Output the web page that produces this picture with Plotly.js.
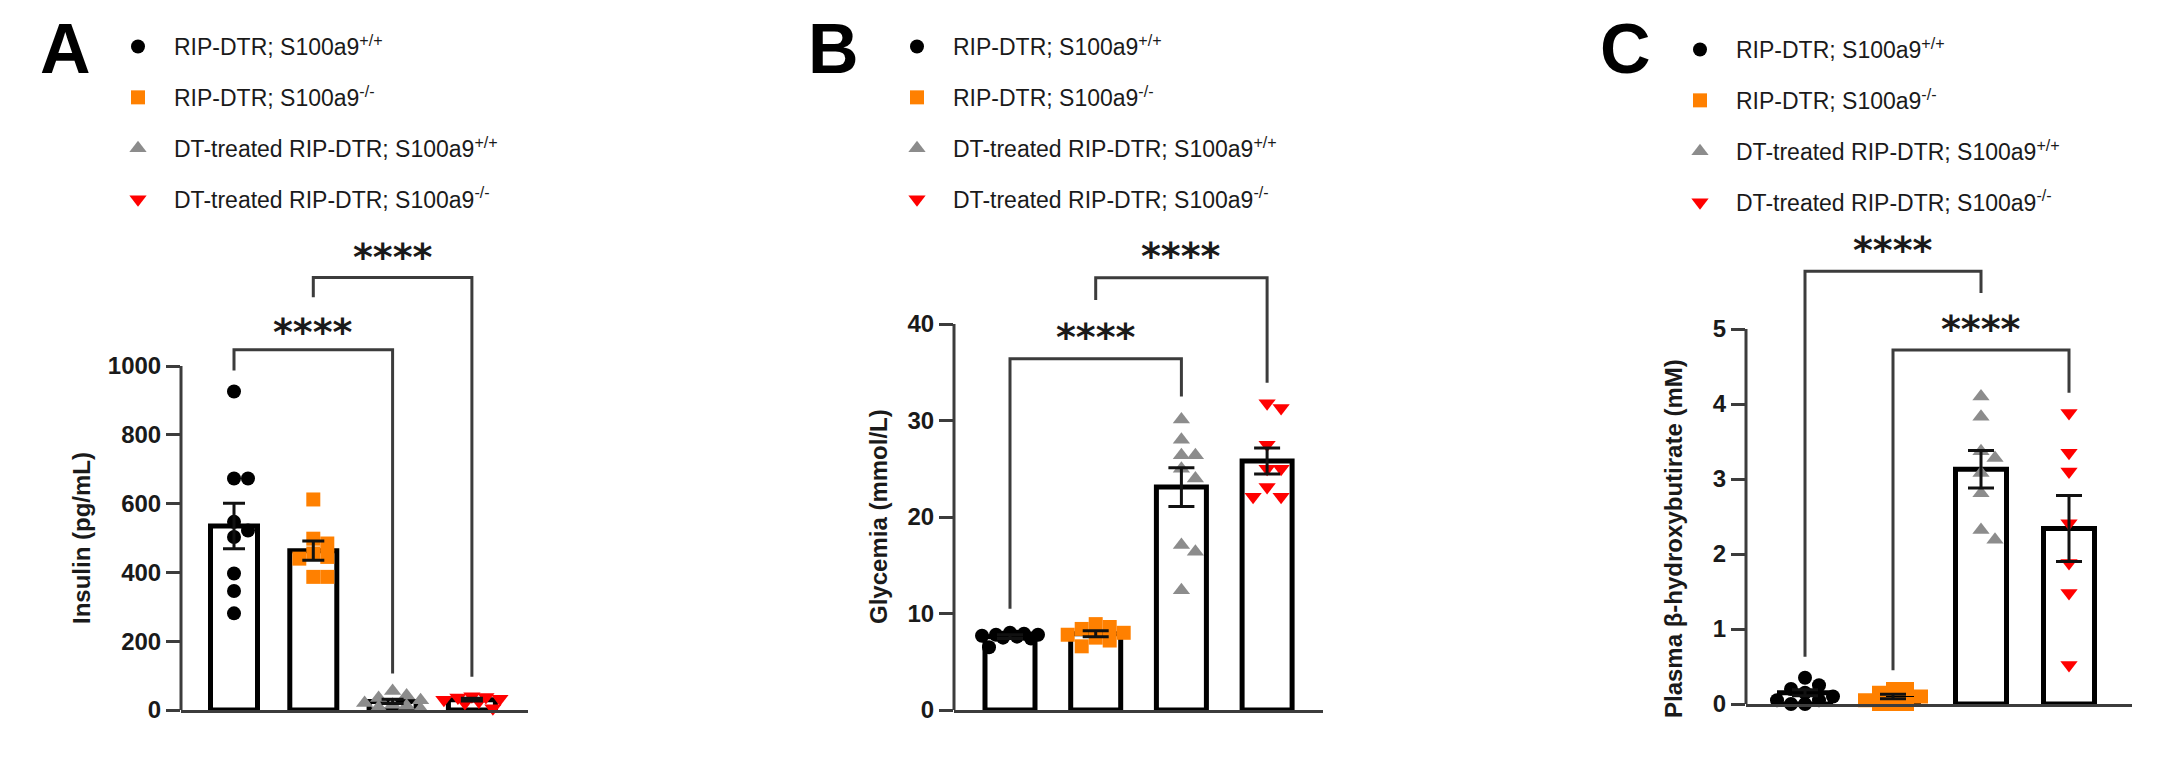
<!DOCTYPE html>
<html>
<head>
<meta charset="utf-8">
<script src="https://cdn.plot.ly/plotly-3.0.1.min.js"></script>
<style>body{margin:0;background:#fff}</style>
</head>
<body>
<div id="chart" style="width:2170px;height:764px"></div>
<script>
const W = 2170, H = 764;
const FONT = "Liberation Sans, Arial, sans-serif";
const AXIS = "#3c3c3c";

const groupNames = [
  "RIP-DTR; S100a9<sup>+/+</sup>",
  "RIP-DTR; S100a9<sup>-/-</sup>",
  "DT-treated RIP-DTR; S100a9<sup>+/+</sup>",
  "DT-treated RIP-DTR; S100a9<sup>-/-</sup>"
];
const groupColors = ["#000000", "#ff8000", "#8c8c8c", "#ff0000"];
const groupSymbols = ["circle", "square", "triangle-up", "triangle-down"];

// A: insulin (pg/mL)
const insulinMean = [535, 463, 25, 30];
const insulinSem = [66, 28, 6, 4];
const insulinPoints = [
  [926, 673, 673, 547, 522, 503, 397, 346, 281],
  [612, 498, 484, 455, 445, 440, 387, 387],
  [55, 42, 35, 28, 20, 15, 12, 8, 3],
  [40, 38, 36, 33, 30, 25, 20, 5]
];
const insulinTicks = [0, 200, 400, 600, 800, 1000];

// B: glycemia (mmol/L)
const glyMean = [7.6, 7.9, 23.1, 25.8];
const glySem = [0.2, 0.3, 2.0, 1.35];
const glyPoints = [
  [8.0, 7.9, 7.8, 7.8, 7.7, 7.6, 7.5, 7.4, 6.5],
  [8.9, 8.6, 8.4, 8.0, 7.8, 7.5, 7.2, 6.6],
  [30.1, 28.0, 26.4, 26.4, 25.0, 24.0, 17.1, 16.4, 12.4],
  [31.8, 31.3, 27.5, 25.0, 25.0, 23.1, 22.1, 22.1]
];
const glyTicks = [0, 10, 20, 30, 40];

// C: plasma beta-hydroxybutirate (mM)
const bhbMean = [0.15, 0.1, 3.13, 2.34];
const bhbSem = [0.04, 0.03, 0.25, 0.44];
const bhbPoints = [
  [0.35, 0.25, 0.2, 0.15, 0.1, 0.05, 0.05, 0.0, 0.0],
  [0.2, 0.2, 0.15, 0.1, 0.05, 0.0, 0.0, 0.0],
  [4.10, 3.83, 3.37, 3.28, 3.08, 2.81, 2.32, 2.19],
  [3.88, 3.35, 3.10, 2.41, 1.88, 1.48, 0.52]
];
const bhbTicks = [0, 1, 2, 3, 4, 5];

// panel geometry in page pixels
const panels = [
  { letter: "A", mean: insulinMean, sem: insulinSem, pts: insulinPoints, ticks: insulinTicks,
    title: "Insulin (pg/mL)", titleX: 81, titleMid: 500,
    axisPx: 181, endPx: 528, firstPx: 234, stepPx: 79.3, zeroPx: 710, topPx: 225, perUnit: 0.344,
    barPx: 47, capPx: 11, letterX: 42, legendX: 138, legendTop: 49,
    brackets: [[0, 2, 1047, 987, 106, 1108], [1, 3, 1257, 1200, 97, 1326]] },
  { letter: "B", mean: glyMean, sem: glySem, pts: glyPoints, ticks: glyTicks,
    title: "Glycemia (mmol/L)", titleX: 878, titleMid: 20,
    axisPx: 954, endPx: 1323, firstPx: 1010, stepPx: 85.7, zeroPx: 710, topPx: 225, perUnit: 9.65,
    barPx: 50, capPx: 13, letterX: 810, legendX: 917, legendTop: 49,
    brackets: [[0, 2, 36.4, 10.5, 32.5, 39.0], [1, 3, 44.8, 42.5, 33.9, 47.4]] },
  { letter: "C", mean: bhbMean, sem: bhbSem, pts: bhbPoints, ticks: bhbTicks,
    title: "Plasma β-hydroxybutirate (mM)", titleX: 1673, titleMid: 2.2,
    axisPx: 1746, endPx: 2132, firstPx: 1805, stepPx: 88, zeroPx: 704, topPx: 215, perUnit: 75,
    barPx: 51, capPx: 13, letterX: 1602, legendX: 1700, legendTop: 52,
    brackets: [[0, 2, 5.77, 0.63, 5.48, 6.09], [1, 3, 4.72, 0.45, 4.15, 5.04]] }
];

// spread points sideways (prism-like scatter), never wider than maxOff px
function swarm(values, perUnit, stepPx, diam, maxOff) {
  const placed = [];
  return values.map(v => {
    const py = v * perUnit;
    let best = 0, bestGap = -1;
    for (let k = 0; ; k++) {
      const cand = k === 0 ? 0 : (k % 2 ? 1 : -1) * Math.ceil(k / 2) * diam * 0.5;
      if (Math.abs(cand) > maxOff) break;
      const gap = placed.length ? Math.min(...placed.map(p => Math.hypot(p[0] - cand, p[1] - py))) : Infinity;
      if (gap >= diam * 0.95) { best = cand; bestGap = gap; break; }
      if (gap > bestGap) { best = cand; bestGap = gap; }
    }
    placed.push([best, py]);
    return best / stepPx;
  });
}

const data = [];
const shapes = [];
const annotations = [];
const layout = {
  width: W, height: H,
  margin: { l: 0, r: 0, t: 0, b: 0 },
  paper_bgcolor: "#fff", plot_bgcolor: "rgba(0,0,0,0)",
  font: { family: FONT, color: "#1a1a1a" },
  showlegend: true,
  shapes: shapes, annotations: annotations
};

panels.forEach((p, k) => {
  const sfx = k === 0 ? "" : String(k + 1);
  const xa = "x" + sfx, ya = "y" + sfx;
  const legendId = "legend" + sfx;
  const yTop = (p.zeroPx - p.topPx) / p.perUnit;

  layout["xaxis" + sfx] = {
    domain: [p.axisPx / W, p.endPx / W],
    range: [(p.axisPx - p.firstPx) / p.stepPx, (p.endPx - p.firstPx) / p.stepPx],
    anchor: ya, showline: true, linewidth: 3, linecolor: AXIS,
    showticklabels: false, ticks: "", showgrid: false, zeroline: false, fixedrange: true
  };
  layout["yaxis" + sfx] = {
    domain: [(H - p.zeroPx) / H, (H - p.topPx) / H],
    range: [0, yTop], anchor: xa,
    showline: false, showgrid: false, zeroline: false,
    tickmode: "array", tickvals: p.ticks, ticks: "outside", ticklen: 14, tickwidth: 3, tickcolor: AXIS,
    tickfont: { family: FONT, size: 24, color: "#1a1a1a", weight: "bold" }, fixedrange: true
  };
  layout[legendId] = {
    x: (p.legendX - 36) / W, xanchor: "left",
    y: 1 - (p.legendTop - 24) / H, yanchor: "top",
    bgcolor: "rgba(0,0,0,0)", borderwidth: 0,
    font: { family: FONT, size: 23, color: "#1a1a1a" },
    itemwidth: 62, tracegroupgap: 18, traceorder: "grouped",
    itemclick: false, itemdoubleclick: false
  };

  // bars
  data.push({
    type: "bar", x: [0, 1, 2, 3], y: p.mean, xaxis: xa, yaxis: ya,
    width: p.barPx / p.stepPx, showlegend: false, hoverinfo: "skip",
    marker: { color: "#ffffff", line: { color: "#000000", width: 5 } }
  });

  // individual points
  p.pts.forEach((vals, g) => {
    const offs = swarm(vals, p.perUnit, p.stepPx, 14, 28);
    data.push({
      type: "scatter", mode: "markers", xaxis: xa, yaxis: ya,
      x: offs.map(o => g + o), y: vals, cliponaxis: false,
      name: groupNames[g], legend: legendId, legendgroup: "g" + k + g,
      marker: { symbol: groupSymbols[g], color: groupColors[g], size: g < 2 ? 14 : 15, line: { width: 0 } }
    });
  });

  // mean +/- SEM on top
  data.push({
    type: "scatter", mode: "markers", x: [0, 1, 2, 3], y: p.mean, xaxis: xa, yaxis: ya,
    showlegend: false, hoverinfo: "skip", cliponaxis: false,
    marker: { size: 1, opacity: 0 },
    error_y: { type: "data", array: p.sem, visible: true, color: "#111", thickness: 3, width: p.capPx }
  });

  // y axis line only up to the last tick
  shapes.push({
    type: "line", xref: "paper", yref: ya, x0: p.axisPx / W, x1: p.axisPx / W,
    y0: 0, y1: p.ticks[p.ticks.length - 1], line: { color: AXIS, width: 3 }
  });

  // significance brackets
  p.brackets.forEach(b => {
    shapes.push({
      type: "path", xref: xa, yref: ya,
      path: `M ${b[0]},${b[3]} L ${b[0]},${b[2]} L ${b[1]},${b[2]} L ${b[1]},${b[4]}`,
      line: { color: AXIS, width: 3 }
    });
    annotations.push({
      xref: xa, yref: ya, x: (b[0] + b[1]) / 2, y: b[5], text: "****",
      showarrow: false, yanchor: "middle", yshift: -3,
      font: { family: "DejaVu Sans, sans-serif", size: 38, color: "#1a1a1a", weight: "bold" }
    });
  });

  // axis title
  annotations.push({
    xref: "paper", yref: ya, x: p.titleX / W, y: p.titleMid, text: p.title,
    textangle: -90, showarrow: false, xanchor: "center", yanchor: "middle",
    font: { family: FONT, size: 24, color: "#1a1a1a", weight: "bold" }
  });

  // panel letter
  annotations.push({
    xref: "paper", yref: "paper", x: (p.letterX - 4) / W, y: 1 - 8 / H, text: p.letter,
    showarrow: false, xanchor: "left", yanchor: "top",
    font: { family: FONT, size: 70, color: "#000", weight: "bold" }
  });
});

Plotly.newPlot("chart", data, layout, { displayModeBar: false, staticPlot: true });
</script>
</body>
</html>
